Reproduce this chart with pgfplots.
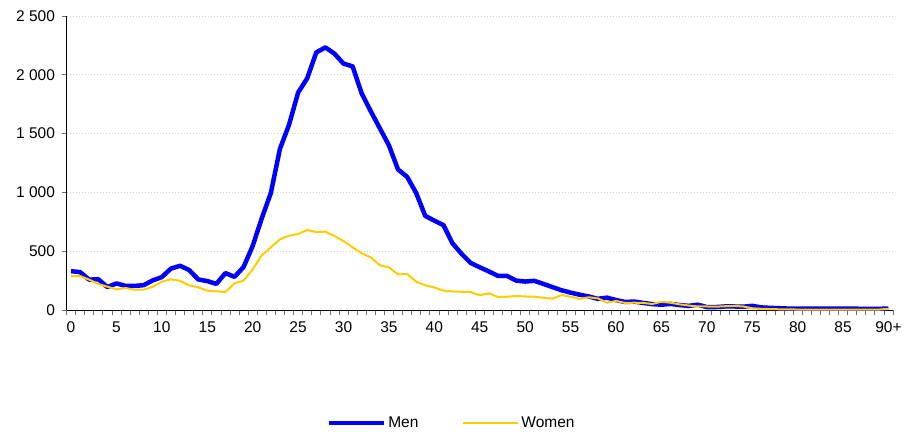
\documentclass[border=0pt]{standalone}
\usepackage{fontspec}
\setmainfont{Liberation Sans}
\usepackage{pgfplots}
\pgfplotsset{compat=1.18}
\definecolor{menblue}{RGB}{0,0,255}
\definecolor{womenyellow}{RGB}{255,204,0}
\definecolor{gridgray}{RGB}{210,210,210}
\definecolor{tickgray}{RGB}{110,110,110}

\begin{document}
\begin{tikzpicture}[x=1pt,y=1pt]
\path[use as bounding box] (0,0) rectangle (907,431);
\begin{axis}[
    at={(66.5pt,121pt)}, anchor=south west,
    scale only axis, width=826.5pt, height=294pt,
    xmin=-0.5, xmax=90.5, ymin=0, ymax=2500,
    axis lines*=left,
    axis line style={black, line width=1pt},
    tick align=outside, major tick length=5pt,
    tick style={tickgray, line width=0.7pt},
    xtick={-0.5,0.5,...,90.5}, xticklabels={},
    extra x ticks={0,5,10,15,20,25,30,35,40,45,50,55,60,65,70,75,80,85,90},
    extra x tick labels={0,5,10,15,20,25,30,35,40,45,50,55,60,65,70,75,80,85,90+},
    extra x tick style={major tick length=0pt, xticklabel style={yshift=-8pt}},
    ytick={0,500,1000,1500,2000,2500},
    yticklabels={0,500,1 000,1 500,2 000,2 500},
    yticklabel style={xshift=-3pt},
    ymajorgrids,
    y grid style={gridgray, dash pattern=on 1.5pt off 1.5pt, line width=0.7pt},
    ticklabel style={font=\fontsize{15.5}{18}\selectfont},
    legend style={at={(0.466,-0.384)}, anchor=center, draw=none,
        font=\fontsize{15.5}{18}\selectfont,
        /tikz/every even column/.append style={column sep=42pt}},
    legend columns=2,
    legend image code/.code={\draw[#1] (0pt,0pt) -- (55pt,0pt);},
]
\addplot[menblue, line width=4.5pt, line join=round] coordinates {
(0,330)(1,322)(2,258)(3,262)(4,195)(5,226)(6,205)(7,205)(8,211)(9,252)
(10,280)(11,352)(12,376)(13,340)(14,260)(15,246)(16,222)(17,314)(18,282)(19,366)
(20,545)(21,780)(22,995)(23,1370)(24,1575)(25,1848)(26,1970)(27,2190)(28,2233)(29,2180)
(30,2095)(31,2072)(32,1842)(33,1690)(34,1545)(35,1400)(36,1195)(37,1133)(38,995)(39,800)
(40,760)(41,722)(42,567)(43,478)(44,400)(45,363)(46,328)(47,290)(48,290)(49,250)
(50,242)(51,248)(52,222)(53,195)(54,168)(55,148)(56,130)(57,115)(58,95)(59,105)
(60,85)(61,68)(62,72)(63,60)(64,50)(65,45)(66,52)(67,42)(68,35)(69,45)
(70,25)(71,25)(72,30)(73,30)(74,28)(75,35)(76,22)(77,18)(78,15)(79,12)
(80,12)(81,12)(82,12)(83,12)(84,12)(85,12)(86,12)(87,10)(88,10)(89,10)(90,12)
};
\addlegendentry{Men}
\addplot[womenyellow, line width=2pt, line join=round] coordinates {
(0,289)(1,289)(2,258)(3,222)(4,198)(5,176)(6,187)(7,172)(8,173)(9,198)
(10,241)(11,261)(12,248)(13,210)(14,193)(15,164)(16,159)(17,153)(18,227)(19,250)
(20,346)(21,465)(22,533)(23,601)(24,632)(25,646)(26,680)(27,663)(28,666)(29,629)
(30,586)(31,533)(32,482)(33,448)(34,380)(35,363)(36,303)(37,306)(38,241)(39,210)
(40,192)(41,164)(42,158)(43,155)(44,153)(45,125)(46,142)(47,110)(48,113)(49,119)
(50,115)(51,113)(52,104)(53,96)(54,127)(55,113)(56,94)(57,108)(58,99)(59,62)
(60,77)(61,60)(62,62)(63,60)(64,51)(65,70)(66,62)(67,48)(68,38)(69,30)
(70,30)(71,28)(72,32)(73,35)(74,30)(75,15)(76,10)(77,8)(78,6)(79,5)
(80,4)(81,4)(82,4)(83,4)(84,4)(85,4)(86,4)(87,4)(88,4)(89,4)(90,10)
};
\addlegendentry{Women}
\end{axis}
\end{tikzpicture}
\end{document}
